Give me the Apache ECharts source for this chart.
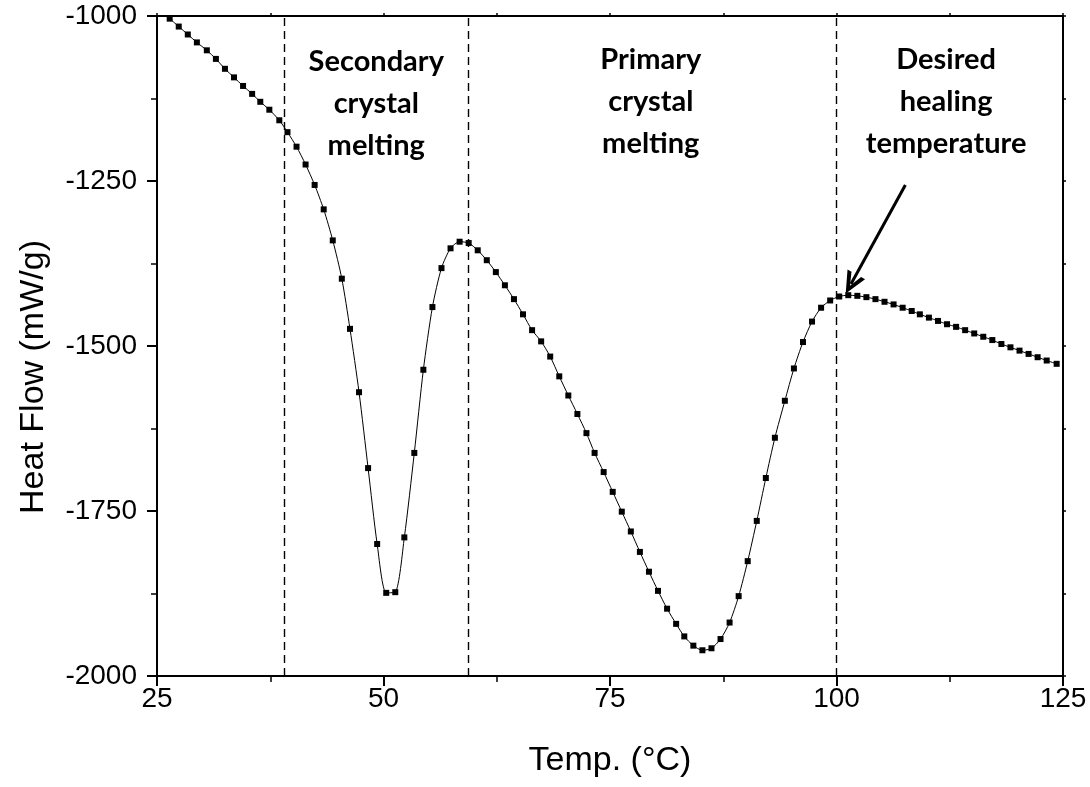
<!DOCTYPE html>
<html>
<head>
<meta charset="utf-8">
<script src="https://cdn.jsdelivr.net/npm/echarts@6/dist/echarts.min.js"></script>
<style>
html,body{margin:0;padding:0;background:#fff;}
#chart{width:1090px;height:787px;}
</style>
</head>
<body>
<div id="chart"></div>
<script>
// Temperature (°C)
const temps = [26.4,27.4,28.4,29.4,30.5,31.5,32.5,33.5,34.5,35.5,36.4,37.4,38.5,39.4,40.4,41.4,42.4,43.4,44.4,45.4,
  46.3,47.3,48.3,49.3,50.3,51.3,52.3,53.4,54.4,55.4,56.4,57.4,58.4,59.4,60.4,61.4,62.4,63.4,64.4,65.4,
  66.4,67.4,68.4,69.4,70.4,71.4,72.4,73.3,74.3,75.3,76.3,77.3,78.3,79.3,80.3,81.3,82.3,83.2,84.2,85.2,
  86.2,87.2,88.2,89.2,90.2,91.2,92.2,93.2,94.3,95.3,96.3,97.3,98.3,99.3,100.3,101.3,102.3,103.3,104.3,105.3,
  106.3,107.3,108.3,109.2,110.2,111.2,112.2,113.2,114.2,115.2,116.2,117.2,118.2,119.2,120.2,121.2,122.2,123.2,124.3];
// Heat flow (mW/g)
const heatFlow = [-1004,-1016,-1028,-1040,-1052,-1065,-1080,-1093,-1106,-1118,-1130,-1142,-1158,-1176,-1198,-1225,-1256,-1293,-1340,-1398,
  -1474,-1570,-1685,-1800,-1874,-1873,-1790,-1662,-1536,-1441,-1382,-1352,-1342,-1344,-1355,-1370,-1388,-1408,-1429,-1452,
  -1476,-1493,-1516,-1546,-1575,-1603,-1632,-1662,-1691,-1721,-1751,-1781,-1812,-1842,-1871,-1898,-1921,-1940,-1954,-1961,
  -1958,-1944,-1919,-1879,-1826,-1765,-1700,-1639,-1583,-1534,-1494,-1463,-1442,-1431,-1425,-1423,-1424,-1426,-1429,-1433,
  -1437,-1442,-1447,-1452,-1457,-1462,-1467,-1471,-1476,-1481,-1486,-1491,-1497,-1502,-1507,-1512,-1517,-1522,-1527];
// Region boundaries (°C)
const boundaries = [39.1, 59.3, 100];
// Region annotations: [temp, heatFlow, text]
const regionLabels = [
  [49.2, -1133, 'Secondary\ncrystal\nmelting'],
  [79.5, -1130, 'Primary\ncrystal\nmelting'],
  [112.1, -1130, 'Desired\nhealing\ntemperature']
];
// Arrow from / to (°C, mW/g)
const arrowFrom = [107.6, -1256];
const arrowTo = [101.6, -1406];

const xTicks = {min: 25, max: 125, interval: 25};
const yTicks = {min: -2000, max: -1000, interval: 250};

const chart = echarts.init(document.getElementById('chart'), null, {renderer: 'canvas'});
const axisFont = 'Liberation Sans';
const lineStyleAxis = {color: '#000', width: 2};

const markLineData = boundaries.map(b => ({
  xAxis: b,
  lineStyle: {type: [8, 5], width: 1.4, color: '#000'}
}));
markLineData.push([
  {coord: arrowFrom, symbol: 'none', lineStyle: {color: '#000', width: 3, type: 'solid'}},
  {coord: arrowTo, symbol: 'path://M10,0 L20,22 L15.5,22 L10,9 L4.5,22 L0,22 Z', symbolSize: [20, 22]}
]);

chart.setOption({
  animation: false,
  backgroundColor: '#fff',
  grid: {left: 157, right: 27, top: 16, bottom: 111, containLabel: false},
  xAxis: [{
    type: 'value', min: xTicks.min, max: xTicks.max, interval: xTicks.interval,
    position: 'bottom',
    name: 'Temp. (°C)', nameLocation: 'middle', nameGap: 68,
    nameTextStyle: {fontFamily: axisFont, fontSize: 34, color: '#000'},
    axisLine: {show: true, onZero: false, lineStyle: lineStyleAxis},
    axisTick: {show: true, inside: false, length: 10, lineStyle: {width: 2, color: '#000'}},
    minorTick: {show: true, splitNumber: 2, length: 6, lineStyle: {width: 1.5, color: '#000'}},
    axisLabel: {fontFamily: axisFont, fontSize: 28, color: '#000', margin: 9, formatter: v => String(v)},
    splitLine: {show: false}
  }, {
    type: 'value', min: xTicks.min, max: xTicks.max, interval: xTicks.interval,
    position: 'top',
    axisLine: {show: true, onZero: false, lineStyle: lineStyleAxis},
    axisTick: {show: true, inside: false, length: 3, lineStyle: {width: 1.5, color: '#000'}},
    minorTick: {show: true, splitNumber: 2, length: 3, lineStyle: {width: 1.5, color: '#000'}},
    axisLabel: {show: false},
    splitLine: {show: false}
  }],
  yAxis: [{
    type: 'value', min: yTicks.min, max: yTicks.max, interval: yTicks.interval,
    position: 'left',
    name: 'Heat Flow (mW/g)', nameLocation: 'middle', nameGap: 106,
    nameTextStyle: {fontFamily: axisFont, fontSize: 34, color: '#000', padding: [0, 62, 0, 0]},
    axisLine: {show: true, onZero: false, lineStyle: lineStyleAxis},
    axisTick: {show: true, inside: false, length: 10, lineStyle: {width: 2, color: '#000'}},
    minorTick: {show: true, splitNumber: 2, length: 6, lineStyle: {width: 1.5, color: '#000'}},
    axisLabel: {fontFamily: axisFont, fontSize: 28, color: '#000', margin: 20, formatter: v => String(v)},
    splitLine: {show: false}
  }, {
    type: 'value', min: yTicks.min, max: yTicks.max, interval: yTicks.interval,
    position: 'right',
    axisLine: {show: true, onZero: false, lineStyle: lineStyleAxis},
    axisTick: {show: true, inside: false, length: 3, lineStyle: {width: 1.5, color: '#000'}},
    minorTick: {show: true, splitNumber: 2, length: 3, lineStyle: {width: 1.5, color: '#000'}},
    axisLabel: {show: false},
    splitLine: {show: false}
  }],
  series: [{
    type: 'line',
    xAxisIndex: 0, yAxisIndex: 0,
    data: temps.map((t, i) => [t, heatFlow[i]]),
    smooth: 0.25,
    symbol: 'rect', symbolSize: 6,
    itemStyle: {color: '#000'},
    lineStyle: {color: '#000', width: 1},
    clip: false,
    markLine: {
      silent: true, animation: false,
      symbol: ['none', 'none'],
      label: {show: false},
      data: markLineData
    },
    markPoint: {
      silent: true, animation: false,
      symbol: 'circle', symbolSize: 0,
      data: regionLabels.map(r => ({
        coord: [r[0], r[1]],
        label: {
          show: true, position: 'inside', formatter: r[2],
          fontFamily: 'Lato', fontWeight: 'bold', fontSize: 29, lineHeight: 42,
          color: '#000', align: 'center', verticalAlign: 'middle'
        }
      }))
    }
  }]
});
</script>
</body>
</html>
